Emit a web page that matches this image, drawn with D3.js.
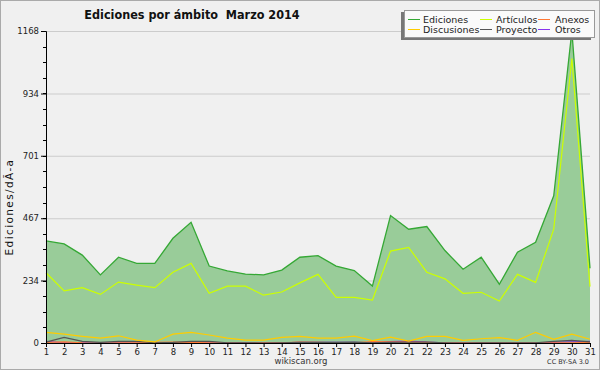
<!DOCTYPE html>
<html><head><meta charset="utf-8">
<script src="https://cdn.jsdelivr.net/npm/d3@7"></script>
<style>
html,body{margin:0;padding:0;background:#f0f0f0;}
svg{display:block;}
text{font-family:"DejaVu Sans",sans-serif;}
</style></head><body>
<svg id="c" width="600" height="370"></svg>
<script>
const days = d3.range(1, 32);
const ediciones = [382,371,329,255,321,298,298,392,452,288,270,258,255,273,321,327,288,271,213,477,426,436,346,276,321,220,340,377,551,1168,280];
const articulos = [263,195,207,182,228,217,207,265,298,186,213,213,179,191,225,257,171,171,161,344,358,265,240,186,190,157,257,227,426,1065,211];
const discusiones = [40,33,25,18,27,11,4,33,40,30,18,11,11,21,25,18,18,26,9,22,7,25,25,10,16,20,10,40,14,33,14];
const proyecto = [3,21,6,2,6,6,1,2,6,6,1,1,0,1,2,2,2,3,1,2,3,3,1,0,1,1,1,1,6,10,4];
const anexos = [2,4,1,0,1,1,2,3,2,1,1,0,1,1,3,2,1,1,5,4,3,2,1,1,1,1,1,1,1,1,2];
const otros = [6,1,1,0,1,0,1,1,1,1,1,1,1,1,2,2,2,2,1,5,7,3,1,1,1,1,1,1,2,4,6];
const yTicks = [0,234,467,701,934,1168];
const title = "Ediciones por ámbito  Marzo 2014";
const yLabel = "Ediciones/dÃ-a";

const series = [
  {name:"Ediciones", values:ediciones, color:"#35a835"},
  {name:"Artículos", values:articulos, color:"#ccff00"},
  {name:"Anexos", values:anexos, color:"#ff7733"},
  {name:"Discusiones", values:discusiones, color:"#ffcc00"},
  {name:"Proyecto", values:proyecto, color:"#555555"},
  {name:"Otros", values:otros, color:"#8833ee"}
];

const svg = d3.select("#c");
const W=600,H=370;
const L=46,R=590,T=31,B=343;
svg.append("rect").attr("x",0.5).attr("y",0.5).attr("width",W-1).attr("height",H-1)
  .attr("fill","#f0f0f0").attr("stroke","#aaaaaa");

const x = d3.scaleLinear().domain([1,31]).range([L,R]);
const y = d3.scaleLinear().domain([0,1168]).range([B,T]);

svg.append("g").selectAll("line").data(yTicks.slice(1)).join("line")
  .attr("x1",L).attr("x2",R).attr("y1",d=>y(d)+0.5).attr("y2",d=>y(d)+0.5)
  .attr("stroke","#cccccc");

const area = d3.area().x((d,i)=>x(days[i])).y0(y(0)).y1(d=>y(d));
svg.append("path").datum(ediciones).attr("d",area).attr("fill","#99cc99");

const line = d3.line().x((d,i)=>x(days[i])).y(d=>y(d));
const order = ["Otros","Anexos","Proyecto","Discusiones","Artículos","Ediciones"];
order.forEach(n=>{
  const s = series.find(z=>z.name===n);
  svg.append("path").datum(s.values).attr("d",line).attr("fill","none")
    .attr("stroke",s.color).attr("stroke-width", n==="Ediciones"?1.3:1.2);
});

const yAxis = d3.axisLeft(y).tickValues(yTicks).tickSize(5).tickFormat(d3.format("d"));
const gy = svg.append("g").attr("transform",`translate(${L},0)`).call(yAxis);
gy.select(".domain").attr("stroke","#000");
gy.selectAll("text").attr("font-size","8.5px").attr("fill","#222").attr("dx","1");
const minor = d3.range(0,1168.1,1168/20);
svg.append("g").selectAll("line").data(minor).join("line")
  .attr("x1",L-3).attr("x2",L).attr("y1",d=>Math.round(y(d))+0.5).attr("y2",d=>Math.round(y(d))+0.5)
  .attr("stroke","#000");

const xAxis = d3.axisBottom(x).tickValues(days).tickSize(4).tickFormat(d3.format("d"));
const gx = svg.append("g").attr("transform",`translate(0,${B})`).call(xAxis);
gx.select(".domain").attr("stroke","#000");
gx.selectAll("text").attr("font-size","8.5px").attr("fill","#222").attr("dy","0.55em");

svg.append("text").attr("x",192).attr("y",19).attr("text-anchor","middle")
  .attr("font-weight","bold").attr("font-size","12.5px").attr("fill","#111")
  .style("white-space","pre")
  .style("font-family","'DejaVu Sans Condensed','DejaVu Sans',sans-serif").text(title);

svg.append("text").attr("transform","translate(13,207) rotate(-90)").attr("text-anchor","middle")
  .attr("font-size","10.5px").attr("letter-spacing","1.4px").attr("fill","#111").text(yLabel);

svg.append("text").attr("x",301).attr("y",364).attr("text-anchor","middle")
  .attr("font-size","8.5px").attr("fill","#333").text("wikiscan.org");
svg.append("text").attr("x",589).attr("y",364).attr("text-anchor","end")
  .attr("font-size","6.5px").attr("fill","#333").text("CC BY-SA 3.0");

const lg = svg.append("g");
lg.append("rect").attr("x",401).attr("y",12).attr("width",190).attr("height",28).attr("fill","#777");
lg.append("rect").attr("x",404.5).attr("y",10.5).attr("width",190).attr("height",27).attr("fill","#fafafa").attr("stroke","#999");
const legendItems = [
  {name:"Ediciones", col:0,row:0},{name:"Artículos",col:1,row:0},{name:"Anexos",col:2,row:0},
  {name:"Discusiones",col:0,row:1},{name:"Proyecto",col:1,row:1},{name:"Otros",col:2,row:1}
];
const colX=[408,480,538], textX=[423,496,555];
legendItems.forEach(it=>{
  const s = series.find(z=>z.name===it.name);
  const yy = 19 + it.row*10;
  lg.append("line").attr("x1",colX[it.col]).attr("x2",colX[it.col]+12).attr("y1",yy+0.5).attr("y2",yy+0.5)
    .attr("stroke",s.color).attr("stroke-width",1);
  lg.append("text").attr("x",textX[it.col]).attr("y",yy+3.5).attr("font-size","9.5px").attr("fill","#222")
    .text(it.name);
});
</script></body></html>
